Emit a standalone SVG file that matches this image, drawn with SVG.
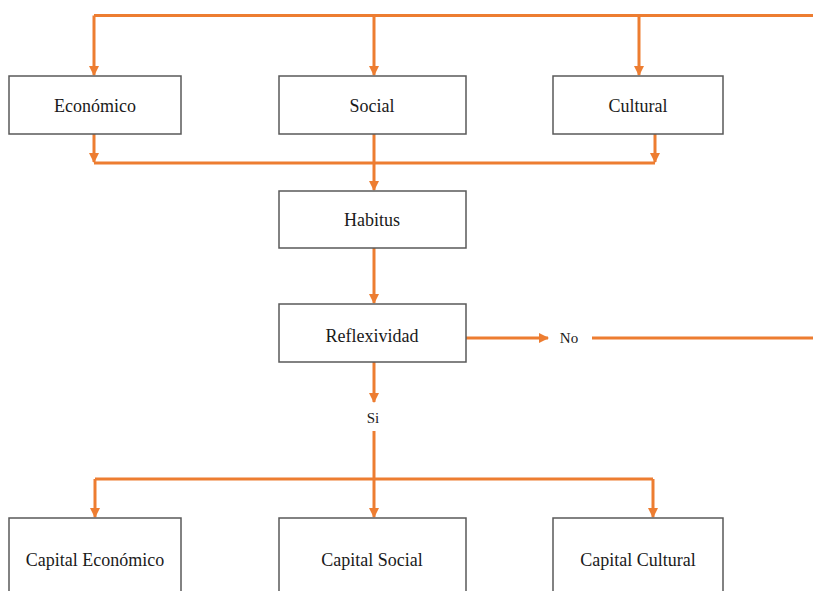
<svg xmlns="http://www.w3.org/2000/svg" width="813" height="591" viewBox="0 0 813 591">
<defs>
<style>
.box{fill:#fff;stroke:#595959;stroke-width:1.5}
text{font-family:'Liberation Serif','DejaVu Serif',serif;fill:#1a1a1a;text-anchor:middle}
.lbl{font-size:18px}
.sm{font-size:15px}
.ln{fill:none;stroke:#ED7D31;stroke-width:3}
.ar{fill:none;stroke:#ED7D31;stroke-width:3;marker-end:url(#ah)}
</style>
<marker id="ah" viewBox="0 0 10 10" refX="9" refY="5" markerWidth="3.4" markerHeight="3.4" orient="auto" markerUnits="strokeWidth">
<path d="M0,0 L10,5 L0,10 z" fill="#ED7D31"/>
</marker>
</defs>
<rect width="813" height="591" fill="#fff"/>
<g id="connectors">
<polyline class="ln" points="94,15.5 813,15.5"/>
<line class="ar" x1="94" y1="15.5" x2="94" y2="75"/>
<line class="ar" x1="374" y1="15.5" x2="374" y2="75"/>
<line class="ar" x1="639" y1="15.5" x2="639" y2="75"/>
<line class="ar" x1="94" y1="134" x2="94" y2="162"/>
<line class="ar" x1="655" y1="134" x2="655" y2="162"/>
<polyline class="ln" points="94,163 655,163"/>
<line class="ar" x1="374" y1="134" x2="374" y2="190"/>
<line class="ar" x1="374" y1="248" x2="374" y2="303"/>
<line class="ar" x1="466" y1="338" x2="548" y2="338"/>
<line class="ln" x1="592" y1="338" x2="813" y2="338"/>
<line class="ar" x1="374" y1="362" x2="374" y2="402"/>
<line class="ln" x1="374" y1="431" x2="374" y2="479"/>
<polyline class="ln" points="95,479 653,479"/>
<line class="ar" x1="95" y1="479" x2="95" y2="517"/>
<line class="ar" x1="374" y1="479" x2="374" y2="517"/>
<line class="ar" x1="653" y1="479" x2="653" y2="517"/>
</g>
<g id="economico"><rect class="box" x="9" y="76" width="172" height="58"/><text class="lbl" x="95" y="112">Económico</text></g>
<g id="social"><rect class="box" x="279" y="76" width="187" height="58"/><text class="lbl" x="372" y="112">Social</text></g>
<g id="cultural"><rect class="box" x="553" y="76" width="170" height="58"/><text class="lbl" x="638" y="112">Cultural</text></g>
<g id="habitus"><rect class="box" x="279" y="191" width="187" height="57"/><text class="lbl" x="372" y="226">Habitus</text></g>
<g id="reflexividad"><rect class="box" x="279" y="304" width="187" height="58"/><text class="lbl" x="372" y="342">Reflexividad</text></g>
<g id="no"><text class="sm" x="569" y="343">No</text></g>
<g id="si"><text class="sm" x="373" y="423">Si</text></g>
<g id="capital-economico"><rect class="box" x="9" y="518" width="172" height="80"/><text class="lbl" x="95" y="566">Capital Económico</text></g>
<g id="capital-social"><rect class="box" x="279" y="518" width="187" height="80"/><text class="lbl" x="372" y="566">Capital Social</text></g>
<g id="capital-cultural"><rect class="box" x="553" y="518" width="170" height="80"/><text class="lbl" x="638" y="566">Capital Cultural</text></g>
</svg>
